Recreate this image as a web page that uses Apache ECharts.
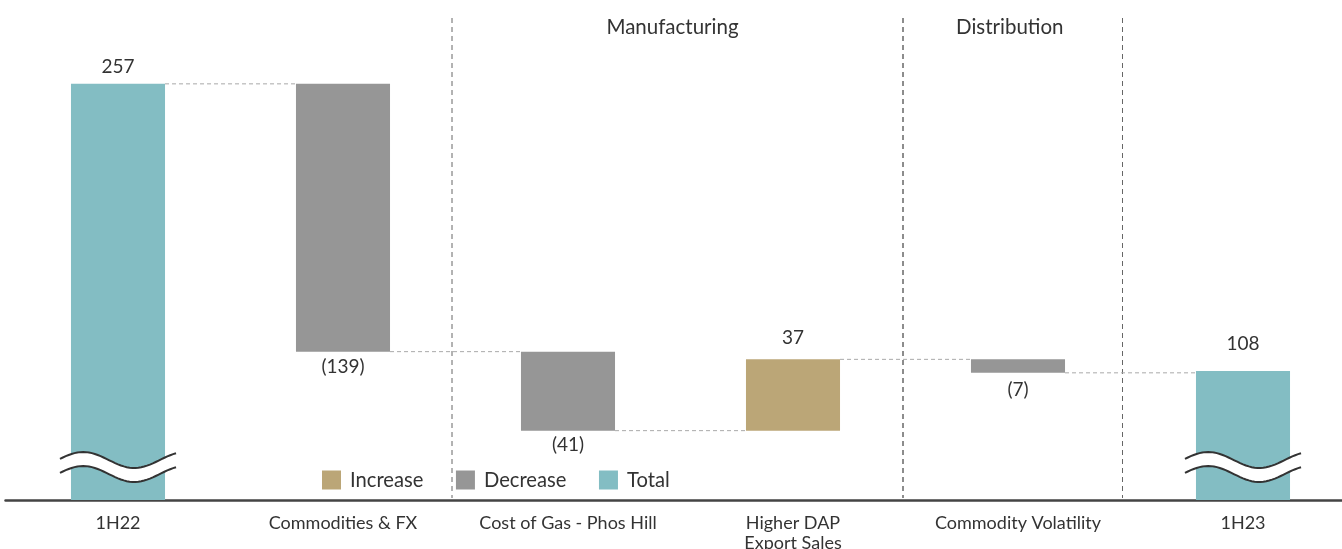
<!DOCTYPE html>
<html>
<head>
<meta charset="utf-8">
<script src="https://cdn.jsdelivr.net/npm/echarts@6/dist/echarts.min.js"></script>
<style>
  html, body { margin: 0; padding: 0; background: #fff; }
  #chart { width: 1342px; height: 549px; }
</style>
</head>
<body>
<div id="chart"></div>
<script>
// Gross margin bridge, 1H22 to 1H23
const categories = ['1H22', 'Commodities & FX', 'Cost of Gas - Phos Hill', 'Higher DAP\nExport Sales', 'Commodity Volatility', '1H23'];
const changes = [257, -139, -41, 37, -7, 108];
const kinds = ['Total', 'Decrease', 'Decrease', 'Increase', 'Decrease', 'Total'];
const valueLabels = ['257', '(139)', '(41)', '37', '(7)', '108'];
const sectionNames = ['Manufacturing', 'Distribution'];
const sectionFirst = [2, 4];
const sectionLast = [3, 4];

// axis window (the value axis is broken, totals start at its floor)
const AXIS_MIN = 41;
const AXIS_MAX = 300;

const FONT = 'Lato, "Open Sans", sans-serif';
const TEXT = '#333333';
const COLORS = { Increase: '#BBA677', Decrease: '#969696', Total: '#83BDC3' };
const BAR_RATIO = 0.418;
const LABEL_GAP = [17, 15, 14.5, 21, 17, 27];
const SEPARATOR_NUDGE = { 2: -3.5, 4: -2.5, 5: -8 };

// running levels of the bridge
const starts = [], ends = [];
let level = 0;
changes.forEach(function (c, i) {
  if (kinds[i] === 'Total') {
    starts.push(AXIS_MIN);
    ends.push(c);
    level = c;
  } else {
    starts.push(level);
    level += c;
    ends.push(level);
  }
});

// wavy axis-break symbol drawn across a total bar
function breakMark(cx, cy, halfW) {
  const n = 40, top = [], bot = [];
  for (let k = 0; k <= n; k++) {
    const t = k / n;
    const x = cx - halfW + 2 * halfW * t;
    const d = -8 * Math.sin(2 * Math.PI * (t + 0.02) / 0.88);
    top.push([x, cy - 7 + d]);
    bot.push([x, cy + 7 + d]);
  }
  return [
    { type: 'polygon', shape: { points: top.concat(bot.slice().reverse()) }, style: { fill: '#ffffff' } },
    { type: 'polyline', shape: { points: top }, style: { stroke: '#333', lineWidth: 2, fill: null } },
    { type: 'polyline', shape: { points: bot }, style: { stroke: '#333', lineWidth: 2, fill: null } }
  ];
}

function barSeries(kind) {
  const idx = [];
  kinds.forEach(function (k, i) { if (k === kind) idx.push(i); });
  return {
    name: kind,
    type: 'custom',
    itemStyle: { color: COLORS[kind] },
    encode: { x: 0, y: [1, 2] },
    data: idx.map(function (i) { return [i, starts[i], ends[i]]; }),
    renderItem: function (params, api) {
      const i = api.value(0);
      const s = api.value(1), e = api.value(2);
      const p0 = api.coord([i, s]);
      const p1 = api.coord([i, e]);
      const w = api.size([1, 0])[0] * BAR_RATIO;
      const top = Math.min(p0[1], p1[1]);
      const bottom = Math.max(p0[1], p1[1]);
      const cx = p0[0];
      const up = e >= s;
      const children = [{
        type: 'rect',
        shape: { x: cx - w / 2, y: top, width: w, height: bottom - top },
        style: { fill: COLORS[kind] }
      }, {
        type: 'text',
        x: cx,
        y: up ? top - LABEL_GAP[i] : bottom + LABEL_GAP[i],
        style: {
          text: valueLabels[i], fill: TEXT, fontSize: 19, fontFamily: FONT,
          align: 'center', verticalAlign: 'middle'
        }
      }];
      if (kind === 'Total') {
        const floorY = api.coord([i, AXIS_MIN])[1];
        breakMark(cx, floorY - 33, w / 2 + 11).forEach(function (c) { children.push(c); });
      }
      return { type: 'group', children: children };
    },
    z: 3
  };
}

const connectorSeries = {
  type: 'custom',
  encode: { x: 0, y: 1 },
  data: categories.slice(1).map(function (_, k) { return [k + 1, ends[k]]; }),
  renderItem: function (params, api) {
    const i = api.value(0);
    const y = api.coord([i, api.value(1)])[1];
    const w = api.size([1, 0])[0] * BAR_RATIO;
    const xPrev = api.coord([i - 1, AXIS_MIN])[0] + w / 2;
    const xThis = api.coord([i, AXIS_MIN])[0] - w / 2;
    return {
      type: 'line',
      shape: { x1: xPrev, y1: y, x2: xThis, y2: y },
      style: { stroke: '#a9a9a9', lineWidth: 1, lineDash: [4, 3] }
    };
  },
  z: 2
};

const sectionSeries = {
  type: 'custom',
  encode: { x: 0, y: 1 },
  data: sectionNames.map(function (_, k) { return [sectionFirst[k], AXIS_MIN, sectionLast[k]]; }),
  renderItem: function (params, api) {
    const k = params.dataIndex;
    const first = api.value(0), last = api.value(2);
    const band = api.size([1, 0])[0];
    const floorY = api.coord([first, AXIS_MIN])[1];
    const xl = api.coord([first, AXIS_MIN])[0] - band / 2 + (SEPARATOR_NUDGE[first] || 0);
    const xr = api.coord([last, AXIS_MIN])[0] + band / 2 + (SEPARATOR_NUDGE[last + 1] || 0);
    const dash = { stroke: '#666', lineWidth: 1, lineDash: [5, 4] };
    return {
      type: 'group',
      children: [
        { type: 'line', shape: { x1: xl, y1: 18, x2: xl, y2: floorY - 2 }, style: dash },
        { type: 'line', shape: { x1: xr, y1: 18, x2: xr, y2: floorY - 2 }, style: dash },
        {
          type: 'text', x: (xl + xr) / 2 - (k === 0 ? 5 : 3), y: 27,
          style: {
            text: sectionNames[k], fill: TEXT, fontSize: 20.5, fontFamily: FONT,
            align: 'center', verticalAlign: 'middle'
          }
        }
      ]
    };
  },
  z: 1
};

const chart = echarts.init(document.getElementById('chart'), null, { renderer: 'canvas' });
chart.setOption({
  animation: false,
  backgroundColor: '#ffffff',
  grid: { left: 5.5, right: -13.5, top: 1, bottom: 49, containLabel: false, outerBoundsMode: 'none' },
  legend: {
    data: ['Increase', 'Decrease', 'Total'],
    left: 322, top: 470, padding: 0,
    icon: 'rect',
    itemWidth: 19, itemHeight: 19, itemGap: 32.5,
    textStyle: { fontSize: 20.2, color: TEXT, fontFamily: FONT, padding: [0, 0, 0, 4] },
    selectedMode: false
  },
  xAxis: {
    type: 'category',
    data: categories,
    axisLine: { lineStyle: { color: '#444', width: 2.5 } },
    axisTick: { show: false },
    axisLabel: { fontSize: 18, color: TEXT, fontFamily: FONT, margin: 13, lineHeight: 20, interval: 0 },
    splitLine: { show: false }
  },
  yAxis: {
    type: 'value', min: AXIS_MIN, max: AXIS_MAX,
    show: false, splitLine: { show: false }
  },
  series: [sectionSeries, connectorSeries, barSeries('Increase'), barSeries('Decrease'), barSeries('Total')]
});
</script>
</body>
</html>
